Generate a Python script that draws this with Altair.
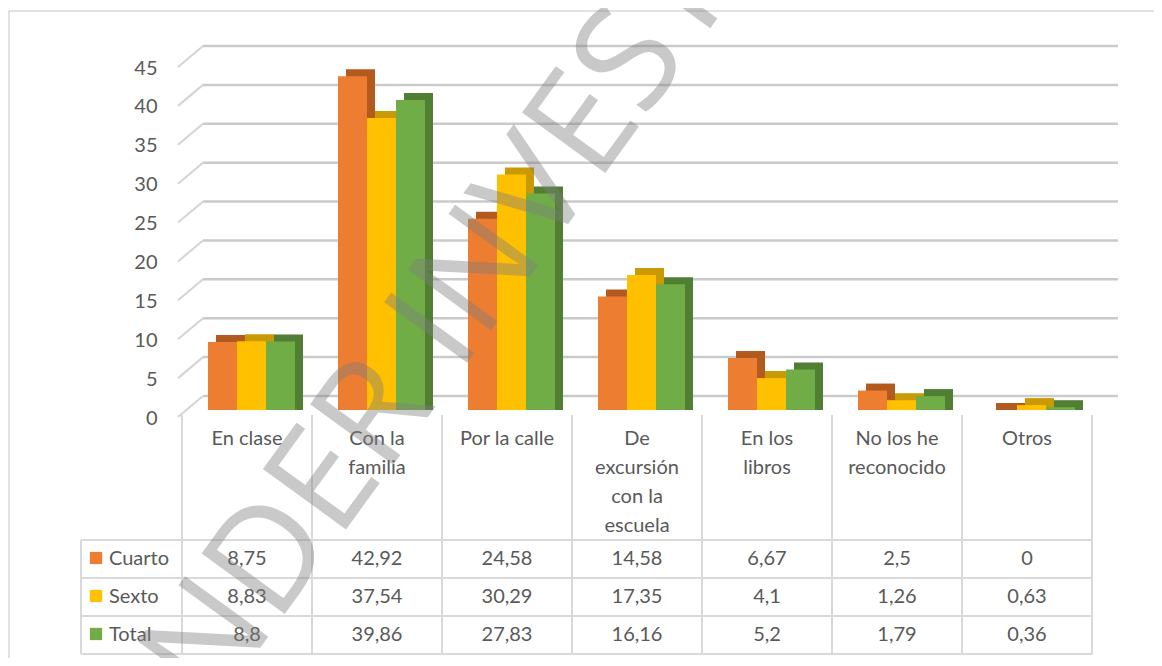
import altair as alt
import pandas as pd

# ---------------- data ----------------
categories = ["En clase", "Con la familia", "Por la calle", "De excursión con la escuela",
              "En los libros", "No los he reconocido", "Otros"]
header_lines = ["En clase", "Con la\nfamilia", "Por la calle", "De\nexcursión\ncon la\nescuela",
                "En los\nlibros", "No los he\nreconocido", "Otros"]
series = ["Cuarto", "Sexto", "Total"]
cuarto = [8.75, 42.92, 24.58, 14.58, 6.67, 2.5, 0]
sexto = [8.83, 37.54, 30.29, 17.35, 4.1, 1.26, 0.63]
total = [8.8, 39.86, 27.83, 16.16, 5.2, 1.79, 0.36]
y_ticks = [0, 5, 10, 15, 20, 25, 30, 35, 40, 45]
watermark = ["UNDER INVESTIGATION"]

front_colors = ["#ED7D31", "#FFC000", "#70AD47"]
depth_colors = ["#B35A1F", "#C99A06", "#507E32"]
TEXT = "#595959"
LINE = "#d9d9d9"
FONT = "Lato"


def fmt(v):
    return f"{v:g}".replace(".", ",")


rows = []
for s, vals in zip(series, [cuarto, sexto, total]):
    for c, v in zip(categories, vals):
        rows.append({"cat": c, "serie": s, "value": v, "label": fmt(v)})
bars_df = pd.DataFrame(rows)
cats_df = pd.DataFrame({"cat": categories, "header": header_lines})
ticks_df = pd.DataFrame({"tick": y_ticks})
series_df = pd.DataFrame({"serie": series})
one_df = pd.DataFrame({"k": [0]})
wm_df = pd.DataFrame({"wm": watermark})

# ---------------- scales ----------------
x_scale = alt.Scale(domain=categories, range=[174, 1084], paddingInner=0, paddingOuter=0)
y_scale = alt.Scale(domain=[0, 45], range=[402, 52], nice=False, zero=True)
row_scale = alt.Scale(type="band", domain=series, range=[532, 646], paddingInner=0, paddingOuter=0)
front_off = alt.Scale(domain=series, range=[26, 113], paddingInner=0, paddingOuter=0)
back_off = alt.Scale(domain=series, range=[34, 121], paddingInner=0, paddingOuter=0)
front_color = alt.Scale(domain=series, range=front_colors)
depth_color = alt.Scale(domain=series, range=depth_colors)

X_band = alt.X("cat:N", scale=x_scale, axis=None)
X_mid = alt.X("cat:N", scale=x_scale, axis=None, bandPosition=0.5)
Y_row = alt.Y("serie:N", scale=row_scale, axis=None, bandPosition=0.5)

# ---------------- layers ----------------
border_top = alt.Chart(one_df).mark_rule(color=LINE, strokeWidth=1.5).encode(
    x=alt.value(1), x2=alt.value(1146), y=alt.value(3))
border_left = alt.Chart(one_df).mark_rule(color=LINE, strokeWidth=1.5).encode(
    x=alt.value(1), y=alt.value(3), y2=alt.value(650))

grid = alt.Chart(ticks_df).mark_rule(color="#cacaca", strokeWidth=2.5, yOffset=-14).encode(
    x=alt.value(195), x2=alt.value(1110),
    y=alt.Y("tick:Q", scale=y_scale, title="",
            axis=alt.Axis(values=y_ticks, orient="left", offset=-149, labelPadding=0,
                          ticks=False, tickSize=0, domain=False, grid=False,
                          labelFontSize=20, labelColor=TEXT, labelFont=FONT,
                          labelOffset=8)))

diag = alt.Chart(ticks_df).mark_rule(color="#d4d4d4", strokeWidth=2, yOffset=7, y2Offset=-14).encode(
    x=alt.value(170), x2=alt.value(195),
    y=alt.Y("tick:Q", scale=y_scale, axis=None), y2="tick:Q")

vlines = alt.Chart(cats_df).mark_rule(color=LINE, strokeWidth=2).encode(
    x=alt.X("cat:N", scale=x_scale, axis=None, bandPosition=0),
    y=alt.value(407), y2=alt.value(646))
vline_end = alt.Chart(cats_df).transform_filter(
    alt.datum.cat == categories[-1]).mark_rule(color=LINE, strokeWidth=2).encode(
    x=alt.X("cat:N", scale=x_scale, axis=None, bandPosition=1),
    y=alt.value(407), y2=alt.value(646))
legend_left = alt.Chart(one_df).mark_rule(color=LINE, strokeWidth=2).encode(
    x=alt.value(73), y=alt.value(532), y2=alt.value(646))
hlines = alt.Chart(series_df).mark_rule(color=LINE, strokeWidth=2).encode(
    x=alt.value(73), x2=alt.value(1084),
    y=alt.Y("serie:N", scale=row_scale, axis=None, bandPosition=0))
hline_end = alt.Chart(series_df).transform_filter(
    alt.datum.serie == series[-1]).mark_rule(color=LINE, strokeWidth=2).encode(
    x=alt.value(73), x2=alt.value(1084),
    y=alt.Y("serie:N", scale=row_scale, axis=None, bandPosition=1))

back = alt.Chart(bars_df).mark_bar(yOffset=-7, y2Offset=0.01).encode(
    x=X_band,
    xOffset=alt.XOffset("serie:N", scale=back_off),
    y=alt.Y("value:Q", scale=y_scale, axis=None),
    y2=alt.datum(0),
    color=alt.Color("serie:N", scale=depth_color, legend=None))

front = alt.Chart(bars_df).mark_bar().encode(
    x=X_band,
    xOffset=alt.XOffset("serie:N", scale=front_off),
    y=alt.Y("value:Q", scale=y_scale, axis=None),
    color=alt.Color("serie:N", scale=front_color, legend=None))

header = alt.Chart(cats_df).mark_text(
    font=FONT, fontSize=20, color=TEXT, baseline="top", lineBreak="\n", lineHeight=29).encode(
    x=X_mid, y=alt.value(421), text="header:N")

values = alt.Chart(bars_df).mark_text(font=FONT, fontSize=20, color=TEXT).encode(
    x=X_mid, y=Y_row, text="label:N")

legend_sq = alt.Chart(series_df).mark_square(size=150, opacity=1, yOffset=-1).encode(
    x=alt.value(88), y=Y_row,
    color=alt.Color("serie:N", scale=front_color, legend=None))
legend_txt = alt.Chart(series_df).mark_text(font=FONT, fontSize=20, color=TEXT, align="left").encode(
    x=alt.value(101), y=Y_row, text="serie:N")

wm = alt.Chart(wm_df).mark_text(
    font="Open Sans", fontWeight=400, fontSize=144, angle=306, align="left",
    baseline="alphabetic", color="#7f7f7f", opacity=0.42).encode(
    x=alt.value(143), y=alt.value(790), text="wm:N")

chart = alt.layer(
    border_top, border_left, grid, diag, vlines, vline_end, legend_left, hlines, hline_end,
    back, front, header, values, legend_sq, legend_txt, wm
).resolve_scale(
    y="independent", color="independent", xOffset="independent"
).properties(
    width=1146, height=650, padding=0,
    autosize=alt.AutoSizeParams(type="none")
).configure_view(stroke="transparent")

chart.save("out.html", embed_options={"renderer": "svg", "actions": False})
